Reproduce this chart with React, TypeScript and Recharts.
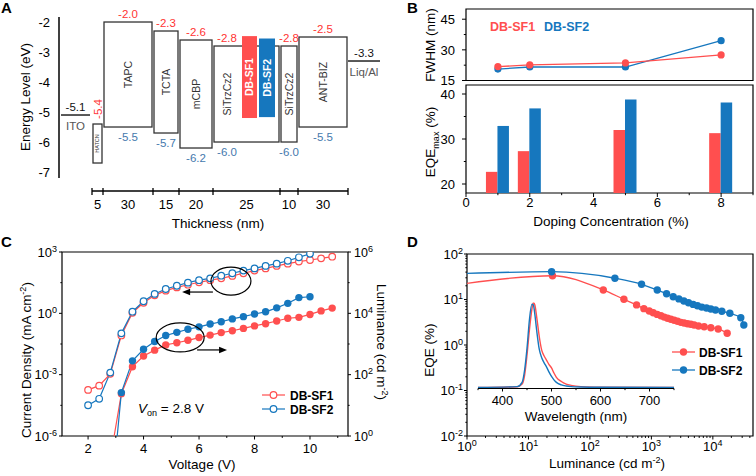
import React from "react"
import { ComposedChart, Line, Bar, XAxis, YAxis, ReferenceArea, ReferenceLine, ReferenceDot } from "recharts"

const FONT = '"Liberation Sans", Arial, Helvetica, sans-serif'
const RED = "#ff4f4f"
const BLUE = "#1677be"
const LEVEL_RED = "#ff3333"
const LEVEL_BLUE = "#4579ad"
const INK = "#000"

// A: device energy levels (x is a schematic position, not thickness)
const segBounds = [33, 44, 94, 120, 154, 221, 239, 289]
const thickness = [5, 30, 15, 20, 25, 10, 30]
const layerNames = ["HATCN", "TAPC", "TCTA", "mCBP", "SiTrzCz2", "SiTrzCz2", "ANT-BIZ"]
const lumo = [-5.4, -2.0, -2.3, -2.6, -2.8, -2.8, -2.5]
const homo = [-6.7, -5.5, -5.7, -6.2, -6.0, -6.0, -5.5]
const emitterNames = ["DB-SF1", "DB-SF2"]
const emitterLumo = [-2.47, -2.55]
const emitterHomo = [-5.2, -5.17]
const emitterSpan = [[183, 198], [200, 216]]
const electrodeNames = ["ITO", "Liq/Al"]
const electrodeLevel = [-5.1, -3.3]
const electrodeSpan = [[2, 31], [289, 321]]
const energyTicks = [-7, -6, -5, -4, -3, -2]

// B: doping series
const doping = [1, 2, 5, 8]
const fwhmSF1 = [21.8, 22.6, 23.6, 27.5]
const fwhmSF2 = [20.6, 21.6, 21.6, 34.5]
const eqeMaxSF1 = [22.7, 27.3, 32.0, 31.3]
const eqeMaxSF2 = [32.9, 36.8, 38.8, 38.1]

// C: J-V-L
const voltJ1 = [2.0, 2.4, 2.8, 3.2, 3.6, 4.0, 4.4, 4.8, 5.2, 5.6, 6.0, 6.4, 6.8, 7.2, 7.6, 8.0, 8.4, 8.8, 9.2, 9.6, 10.0, 10.4, 10.8]
const jSF1 = [1.8e-4, 2.9e-4, 1.1e-3, 0.083, 1.07, 3.3, 7.6, 12.9, 18.6, 25.1, 33, 41.7, 51.3, 67.6, 91.2, 123, 158, 209, 269, 339, 407, 490, 589]
const voltJ2 = [2.0, 2.4, 2.8, 3.2, 3.6, 4.0, 4.4, 4.8, 5.2, 5.6, 6.0, 6.4, 6.8, 7.2, 7.6, 8.0, 8.4, 8.8, 9.2, 9.6, 10.0]
const jSF2 = [3.2e-5, 6.6e-5, 1.26e-3, 0.105, 1.2, 3.9, 8.9, 15.5, 22.4, 31.6, 41.7, 51.3, 69.2, 91.2, 123, 158, 209, 269, 372, 550, 820]
const voltL1 = [2.94, 3.2, 3.6, 4.0, 4.4, 4.8, 5.2, 5.6, 6.0, 6.4, 6.8, 7.2, 7.6, 8.0, 8.4, 8.8, 9.2, 9.6, 10.0, 10.4, 10.8]
const lumSF1 = [1, 24, 182, 407, 631, 933, 1096, 1318, 1622, 1950, 2350, 2700, 3230, 3890, 4600, 5620, 6900, 7400, 9200, 12000, 14800]
const voltL2 = [3.05, 3.2, 3.6, 4.0, 4.4, 4.8, 5.2, 5.6, 6.0, 6.4, 6.8, 7.2, 7.6, 8.0, 8.4, 8.8, 9.2, 9.6, 10.0]
const lumSF2 = [1, 26, 282, 676, 1200, 1900, 2400, 3020, 3630, 4470, 5330, 6580, 7800, 9500, 11200, 15100, 21200, 32600, 34700]

// D: EQE-L and EL spectra
const lumD1 = [1, 24.6, 165, 357, 574, 755, 923, 1072, 1245, 1430, 1618, 1834, 2075, 2350, 2667, 3020, 3412, 3873, 4385, 4966, 5848, 7228, 9270, 12210, 17100]
const eqeD1 = [22.7, 33.3, 16.2, 10.1, 7.6, 6.3, 5.6, 5.1, 4.7, 4.4, 4.1, 3.86, 3.67, 3.49, 3.32, 3.15, 3.05, 2.94, 2.85, 2.75, 2.62, 2.52, 2.4, 2.25, 1.81]
const lumD2 = [1, 23.8, 255, 692, 1245, 1766, 2265, 2800, 3375, 4020, 4786, 5623, 6607, 7890, 9270, 11040, 14000, 18900, 28500, 31900]
const eqeD2 = [37.6, 40.8, 29.3, 21.6, 16.2, 13.4, 11.5, 10.3, 9.3, 8.5, 7.8, 7.3, 6.8, 6.5, 6.2, 5.9, 5.5, 4.97, 3.98, 2.75]
const wavelength = [350, 430, 440, 445, 450, 455, 460, 463, 466, 470, 475, 480, 485, 490, 495, 500, 505, 510, 520, 530, 540, 560, 600, 750]
const elSF1 = [0, 0.008, 0.04, 0.14, 0.38, 0.68, 0.92, 1.0, 0.97, 0.82, 0.6, 0.44, 0.37, 0.32, 0.27, 0.23, 0.17, 0.12, 0.07, 0.04, 0.025, 0.01, 0.004, 0]
const elSF2 = [0, 0.01, 0.06, 0.2, 0.46, 0.8, 0.98, 0.97, 0.86, 0.66, 0.45, 0.35, 0.29, 0.24, 0.18, 0.13, 0.09, 0.06, 0.03, 0.017, 0.01, 0.005, 0.002, 0]

const close = (a: number, b: number) => Math.abs(a - b) <= 1e-6 * Math.max(Math.abs(a), Math.abs(b), 1e-12)
const pow10 = (v: number) => (
  <>
    10<tspan dy={-5} fontSize={9}>{Math.round(Math.log10(v))}</tspan>
  </>
)
const logMinors = (lo: number, hi: number, max: number) => {
  const out: number[] = []
  for (let e = lo; e <= hi; e++) for (let m = 1; m <= 9; m++) if (m * 10 ** e <= max) out.push(m * 10 ** e)
  return out
}

type Side = "left" | "right" | "bottom"
function tickFn(side: Side, majors: number[], fmt: (v: number) => React.ReactNode, gap: number, len = 3.5, fs = 13) {
  return (p: any) => {
    const v = Number(p.payload.value)
    const major = majors.some((m) => close(m, v))
    const l = major ? len : len * 0.55
    const { x, y } = p
    if (side === "left")
      return (
        <g>
          <line x1={x} x2={x - l} y1={y} y2={y} stroke={INK} />
          {major && <text x={x - len - gap} y={y} dy="0.36em" textAnchor="end" fontSize={fs} fill={INK}>{fmt(v)}</text>}
        </g>
      )
    if (side === "right")
      return (
        <g>
          <line x1={x} x2={x + l} y1={y} y2={y} stroke={INK} />
          {major && <text x={x + len + gap} y={y} dy="0.36em" textAnchor="start" fontSize={fs} fill={INK}>{fmt(v)}</text>}
        </g>
      )
    return (
      <g>
        <line x1={x} x2={x} y1={y} y2={y + l} stroke={INK} />
        {major && <text x={x} y={y + gap} textAnchor="middle" fontSize={fs} fill={INK}>{fmt(v)}</text>}
      </g>
    )
  }
}
const bare = { axisLine: false, tickLine: false, tickSize: 0, tickMargin: 0, interval: 0 as const, allowDataOverflow: true }

const skipFirst = (color: string, r: number) => (p: any) =>
  p.index === 0 ? <g key={`d${p.index}`} /> : <circle key={`d${p.index}`} cx={p.cx} cy={p.cy} r={r} fill={color} />

// ---------- A ----------
const segCenters = thickness.map((_, i) => (segBounds[i] + segBounds[i + 1]) / 2)

const layerShape = (i: number) => (p: any) => {
  const { x, y, width: w, height: h } = p
  const host = w > 60
  const cx = host ? x + 13 : x + w / 2
  const cy = y + h / 2
  if (layerNames[i] === "HATCN") {
    return (
      <g>
        <rect x={x} y={y} width={w} height={h} fill="#fff" stroke="#333" strokeWidth={1.3} />
        <text x={cx} y={cy} transform={`rotate(-90 ${cx} ${cy})`} textAnchor="middle" dy="0.35em" fontSize={5.5} fill="#333">{layerNames[i]}</text>
        <text x={cx} y={y - 15} transform={`rotate(-90 ${cx} ${y - 15})`} textAnchor="middle" dy="0.35em" fontSize={11.5} fill={LEVEL_RED}>{lumo[i].toFixed(1)}</text>
      </g>
    )
  }
  return (
    <g>
      <rect x={x} y={y} width={w} height={h} fill="#fff" stroke="#333" strokeWidth={1.3} />
      <text x={cx} y={cy} transform={`rotate(-90 ${cx} ${cy})`} textAnchor="middle" dy="0.35em" fontSize={10.5} fill="#333">{layerNames[i]}</text>
      <text x={cx} y={y - 4.5} textAnchor="middle" fontSize={11.5} fill={LEVEL_RED}>{lumo[i].toFixed(1)}</text>
      <text x={cx} y={y + h + 14} textAnchor="middle" fontSize={11.5} fill={LEVEL_BLUE}>{homo[i].toFixed(1)}</text>
    </g>
  )
}

const emitterShape = (i: number) => (p: any) => {
  const { x, y, width: w, height: h } = p
  const cx = x + w / 2
  const cy = y + h / 2
  return (
    <g>
      <rect x={x} y={y} width={w} height={h} fill={i === 0 ? RED : BLUE} />
      <text x={cx} y={cy} transform={`rotate(-90 ${cx} ${cy})`} textAnchor="middle" dy="0.35em" fontSize={10.5} fontWeight="bold" fill="#fff">{emitterNames[i]}</text>
    </g>
  )
}

const electrodeShape = (i: number) => (p: any) => {
  const cx = (p.x1 + p.x2) / 2
  return (
    <g>
      <line x1={p.x1} x2={p.x2} y1={p.y1} y2={p.y2} stroke="#222" strokeWidth={1.5} />
      <text x={cx} y={p.y1 - 4.5} textAnchor="middle" fontSize={11.5} fill="#111">{electrodeLevel[i].toFixed(1)}</text>
      <text x={cx} y={p.y1 + 15} textAnchor="middle" fontSize={11.5} fill="#555">{electrodeNames[i]}</text>
    </g>
  )
}

const EnergyPanel = () => (
  <ComposedChart width={390} height={235} margin={{ top: 17, right: 5, bottom: 14, left: 0 }} data={segCenters.map((x) => ({ x }))}>
    <XAxis type="number" dataKey="x" domain={[0, 326]} ticks={segCenters} tickFormatter={(v: number) => String(thickness[segCenters.indexOf(v)])} height={30} axisLine={false} tickLine={false} tickSize={0} tickMargin={9} interval={0} tick={{ fontSize: 13, fill: INK }} allowDataOverflow />
    <YAxis type="number" domain={[-7.633, -1.833]} ticks={energyTicks} width={59} axisLine={false} tickLine={false} tickSize={0} tickMargin={9} interval={0} tick={{ fontSize: 13, fill: INK }} allowDataOverflow />
    <ReferenceLine segment={[{ x: 0, y: -1.833 }, { x: 0, y: -7.2 }]} stroke={INK} strokeWidth={1.5} ifOverflow="visible" />
    <ReferenceLine segment={[{ x: segBounds[0], y: -7.633 }, { x: segBounds[segBounds.length - 1], y: -7.633 }]} stroke={INK} strokeWidth={1.3} ifOverflow="visible" />
    {segBounds.map((b) => (
      <ReferenceLine key={`b${b}`} segment={[{ x: b, y: -7.533 }, { x: b, y: -7.766 }]} stroke={INK} strokeWidth={1.3} ifOverflow="visible" />
    ))}
    {electrodeNames.map((n, i) => (
      <ReferenceLine key={n} segment={[{ x: electrodeSpan[i][0], y: electrodeLevel[i] }, { x: electrodeSpan[i][1], y: electrodeLevel[i] }]} shape={electrodeShape(i)} ifOverflow="visible" />
    ))}
    {layerNames.map((n, i) => (
      <ReferenceArea key={`l${i}`} x1={segBounds[i] + 1} x2={segBounds[i + 1] - 1} y1={homo[i]} y2={lumo[i]} shape={layerShape(i)} ifOverflow="visible" />
    ))}
    {emitterNames.map((n, i) => (
      <ReferenceArea key={n} x1={emitterSpan[i][0]} x2={emitterSpan[i][1]} y1={emitterHomo[i]} y2={emitterLumo[i]} shape={emitterShape(i)} ifOverflow="visible" />
    ))}
  </ComposedChart>
)

// ---------- B ----------
const fwhmRows = doping.map((c, i) => ({ c, a: fwhmSF1[i], b: fwhmSF2[i] }))
const eqeRows = doping.map((c, i) => ({ c, a: eqeMaxSF1[i], b: eqeMaxSF2[i] }))
const dopingTicks = [0, 1, 2, 3, 4, 5, 6, 7, 8, 9]

const FwhmPanel = () => (
  <ComposedChart width={356} height={90} data={fwhmRows} margin={{ top: 9, right: 3, bottom: 9.5, left: 0 }}>
    <XAxis type="number" dataKey="c" domain={[0, 9]} hide allowDataOverflow />
    <YAxis type="number" domain={[15, 50]} ticks={[15, 22.5, 30, 37.5, 45]} width={66} {...bare} tick={tickFn("left", [15, 30, 45], String, 7, 4)} />
    <Line dataKey="b" stroke={BLUE} strokeWidth={1.3} dot={{ r: 3.6, fill: BLUE, stroke: BLUE, strokeWidth: 0 }} isAnimationActive={false} />
    <Line dataKey="a" stroke={RED} strokeWidth={1.3} dot={{ r: 3.6, fill: RED, stroke: RED, strokeWidth: 0 }} isAnimationActive={false} />
    <ReferenceArea x1={0} x2={9} y1={15} y2={50} fill="none" stroke={INK} strokeWidth={1.2} />
  </ComposedChart>
)

const EqeMaxPanel = () => (
  <ComposedChart width={356} height={160} data={eqeRows} margin={{ top: 5, right: 3, bottom: 0, left: 0 }} barGap={0}>
    <XAxis type="number" dataKey="c" domain={[0, 9]} ticks={dopingTicks} height={47} {...bare} tick={tickFn("bottom", [0, 2, 4, 6, 8], String, 14, 4)} />
    <YAxis type="number" domain={[18, 42]} ticks={[20, 25, 30, 35, 40]} width={66} {...bare} tick={tickFn("left", [20, 30, 40], String, 7, 4)} />
    <Bar dataKey="a" fill={RED} barSize={11.5} isAnimationActive={false} />
    <Bar dataKey="b" fill={BLUE} barSize={11.5} isAnimationActive={false} />
    <ReferenceArea x1={0} x2={9} y1={18} y2={42} fill="none" stroke={INK} strokeWidth={1.2} />
  </ComposedChart>
)

// ---------- C ----------
const jRows1 = voltJ1.map((v, i) => ({ v, j: jSF1[i] }))
const jRows2 = voltJ2.map((v, i) => ({ v, j: jSF2[i] }))
const lRows1 = voltL1.map((v, i) => ({ v, l: lumSF1[i] }))
const lRows2 = voltL2.map((v, i) => ({ v, l: lumSF2[i] }))
const jTicks = [1e-6, 10 ** -4.5, 1e-3, 10 ** -1.5, 1, 10 ** 1.5, 1e3]
const lTicks = [1, 10, 100, 1e3, 1e4, 1e5, 1e6]

const ellipse = (rx: number, ry: number) => (p: any) => <ellipse cx={p.cx} cy={p.cy} rx={rx} ry={ry} fill="none" stroke={INK} strokeWidth={1.2} />
const head = (dir: number) => (p: any) => (
  <polygon points={`${p.cx},${p.cy} ${p.cx - dir * 8},${p.cy - 3.2} ${p.cx - dir * 8},${p.cy + 3.2}`} fill={INK} />
)

const JvlPanel = () => (
  <ComposedChart width={400} height={236} margin={{ top: 12, right: 0, bottom: 0, left: 0 }}>
    <XAxis type="number" dataKey="v" domain={[1.06, 11.37]} ticks={[2, 3, 4, 5, 6, 7, 8, 9, 10, 11]} height={40} {...bare} tick={tickFn("bottom", [2, 4, 6, 8, 10], String, 17, 3.5)} />
    <YAxis yAxisId="j" type="number" scale="log" domain={[1e-6, 1e3]} ticks={jTicks} width={62} {...bare} tick={tickFn("left", [1e-6, 1e-3, 1, 1e3], pow10, 2, 3)} />
    <YAxis yAxisId="l" orientation="right" type="number" scale="log" domain={[1, 1e6]} ticks={lTicks} width={52} {...bare} tick={tickFn("right", [1, 100, 1e4, 1e6], pow10, 3, 3, 12.5)} />
    <Line yAxisId="j" data={jRows1} dataKey="j" stroke={RED} strokeWidth={1.2} dot={{ r: 3.3, fill: "#fff", stroke: RED, strokeWidth: 1.2 }} isAnimationActive={false} />
    <Line yAxisId="j" data={jRows2} dataKey="j" stroke={BLUE} strokeWidth={1.2} dot={{ r: 3.3, fill: "#fff", stroke: BLUE, strokeWidth: 1.2 }} isAnimationActive={false} />
    <Line yAxisId="l" data={lRows1} dataKey="l" stroke={RED} strokeWidth={1.2} dot={skipFirst(RED, 3.7)} isAnimationActive={false} />
    <Line yAxisId="l" data={lRows2} dataKey="l" stroke={BLUE} strokeWidth={1.2} dot={skipFirst(BLUE, 3.7)} isAnimationActive={false} />
    <ReferenceDot yAxisId="j" x={7.15} y={38} shape={ellipse(20, 14)} ifOverflow="visible" />
    <ReferenceDot yAxisId="j" x={5.32} y={0.066} shape={ellipse(24, 14.5)} ifOverflow="visible" />
    <ReferenceLine yAxisId="j" segment={[{ x: 6.5, y: 11 }, { x: 5.6, y: 11 }]} stroke={INK} strokeWidth={1.2} />
    <ReferenceDot yAxisId="j" x={5.39} y={11} shape={head(-1)} />
    <ReferenceLine yAxisId="j" segment={[{ x: 5.93, y: 0.0162 }, { x: 6.8, y: 0.0162 }]} stroke={INK} strokeWidth={1.2} />
    <ReferenceDot yAxisId="j" x={7.01} y={0.0162} shape={head(1)} />
    <ReferenceArea yAxisId="j" x1={1.06} x2={11.37} y1={1e-6} y2={1e3} fill="none" stroke={INK} strokeWidth={1.2} />
  </ComposedChart>
)

// ---------- D ----------
const dRows1 = lumD1.map((L, i) => ({ L, e: eqeD1[i] }))
const dRows2 = lumD2.map((L, i) => ({ L, e: eqeD2[i] }))
const specRows = wavelength.map((w, i) => ({ w, a: elSF1[i], b: elSF2[i] }))

const EqePanel = () => (
  <ComposedChart width={356} height={236} margin={{ top: 14, right: 3, bottom: 0, left: 0 }}>
    <XAxis type="number" dataKey="L" scale="log" domain={[1, 45000]} ticks={logMinors(0, 4, 45000)} height={40} {...bare} tick={tickFn("bottom", [1, 10, 100, 1e3, 1e4], pow10, 15, 3.5)} />
    <YAxis type="number" scale="log" domain={[0.01, 100]} ticks={logMinors(-2, 2, 100)} width={67} {...bare} tick={tickFn("left", [0.01, 0.1, 1, 10, 100], pow10, 1, 3)} />
    <Line data={dRows1} dataKey="e" type="monotone" stroke={RED} strokeWidth={1.3} dot={skipFirst(RED, 3.7)} isAnimationActive={false} />
    <Line data={dRows2} dataKey="e" type="monotone" stroke={BLUE} strokeWidth={1.3} dot={skipFirst(BLUE, 3.7)} isAnimationActive={false} />
    <ReferenceArea x1={1} x2={45000} y1={0.01} y2={100} fill="none" stroke={INK} strokeWidth={1.2} />
  </ComposedChart>
)

const SpectrumInset = () => (
  <ComposedChart width={210} height={140} data={specRows} margin={{ top: 7.5, right: 6, bottom: 0, left: 8 }}>
    <XAxis type="number" dataKey="w" domain={[350, 750]} ticks={[350, 400, 450, 500, 550, 600, 650, 700, 750]} height={46.5} axisLine={{ stroke: INK, strokeWidth: 1.2 }} tickLine={false} tickSize={0} tickMargin={0} interval={0} allowDataOverflow tick={tickFn("bottom", [400, 500, 600, 700], String, 16.5, 3)} />
    <YAxis type="number" domain={[-0.012, 1]} hide allowDataOverflow />
    <Line dataKey="a" type="monotone" stroke={RED} strokeWidth={1.4} dot={false} isAnimationActive={false} />
    <Line dataKey="b" type="monotone" stroke={BLUE} strokeWidth={1.4} dot={false} isAnimationActive={false} />
  </ComposedChart>
)

const abs = (left: number, top: number): React.CSSProperties => ({ position: "absolute", left, top })

const Overlay = () => (
  <svg width={756} height={476} style={{ position: "absolute", left: 0, top: 0, pointerEvents: "none" }} fontFamily={FONT}>
    <g fontWeight="bold" fontSize={15}>
      <text x={1} y={13}>A</text>
      <text x={407} y={13}>B</text>
      <text x={1} y={247}>C</text>
      <text x={407} y={247}>D</text>
    </g>
    <g fontSize={13.5} fill={INK} textAnchor="middle">
      <text x={30} y={97} transform="rotate(-90 30 97)">Energy Level (eV)</text>
      <text x={218} y={228}>Thickness (nm)</text>
      <text x={435} y={45} transform="rotate(-90 435 45)">FWHM (nm)</text>
      <text x={435} y={142} transform="rotate(-90 435 142)">
        EQE<tspan dy={4} fontSize={9}>max</tspan><tspan dy={-4}> (%)</tspan>
      </text>
      <text x={611} y={226}>Doping Concentration (%)</text>
      <text x={31} y={360} transform="rotate(-90 31 360)">
        Current Density (mA cm<tspan dy={-5} fontSize={9}>-2</tspan><tspan dy={5}>)</tspan>
      </text>
      <text x={377} y={342} transform="rotate(90 377 342)">
        Luminance (cd m<tspan dy={-5} fontSize={9}>-2</tspan><tspan dy={5}>)</tspan>
      </text>
      <text x={202} y={469}>Voltage (V)</text>
      <text x={434} y={350} transform="rotate(-90 434 350)">EQE (%)</text>
      <text x={607} y={468}>
        Luminance (cd m<tspan dy={-5} fontSize={9}>-2</tspan><tspan dy={5}>)</tspan>
      </text>
      <text x={576} y={421}>Wavelength (nm)</text>
    </g>
    <text x={138} y={413} fontSize={13.5}>
      <tspan fontStyle="italic">V</tspan><tspan dy={3} fontSize={9}>on</tspan><tspan dy={-3}> = 2.8 V</tspan>
    </text>
    <g fontWeight="bold" fontSize={12.5}>
      <text x={490} y={31} fill={RED}>DB-SF1</text>
      <text x={544} y={31} fill={BLUE}>DB-SF2</text>
    </g>
    <g fontWeight="bold" fontSize={12} fill={INK}>
      <line x1={262} x2={285} y1={395} y2={395} stroke={RED} strokeWidth={1.2} />
      <circle cx={273.5} cy={395} r={3.3} fill="#fff" stroke={RED} strokeWidth={1.2} />
      <text x={290} y={399.5}>DB-SF1</text>
      <line x1={262} x2={285} y1={409} y2={409} stroke={BLUE} strokeWidth={1.2} />
      <circle cx={273.5} cy={409} r={3.3} fill="#fff" stroke={BLUE} strokeWidth={1.2} />
      <text x={290} y={413.5}>DB-SF2</text>
      <line x1={672} x2={695} y1={352} y2={352} stroke={RED} strokeWidth={1.3} />
      <circle cx={683.5} cy={352} r={3.7} fill={RED} />
      <text x={699} y={356.5}>DB-SF1</text>
      <line x1={672} x2={695} y1={370} y2={370} stroke={BLUE} strokeWidth={1.3} />
      <circle cx={683.5} cy={370} r={3.7} fill={BLUE} />
      <text x={699} y={374.5}>DB-SF2</text>
    </g>
  </svg>
)

export default function App() {
  return (
    <div style={{ position: "absolute", left: 0, top: 0, width: 756, height: 476, background: "#fff", fontFamily: FONT, overflow: "hidden" }}>
      <div style={abs(0, 0)}><EnergyPanel /></div>
      <div style={abs(400, 0)}><FwhmPanel /></div>
      <div style={abs(400, 80)}><EqeMaxPanel /></div>
      <div style={abs(0, 240)}><JvlPanel /></div>
      <div style={abs(400, 240)}><EqePanel /></div>
      <div style={abs(470, 295)}><SpectrumInset /></div>
      <Overlay />
    </div>
  )
}
